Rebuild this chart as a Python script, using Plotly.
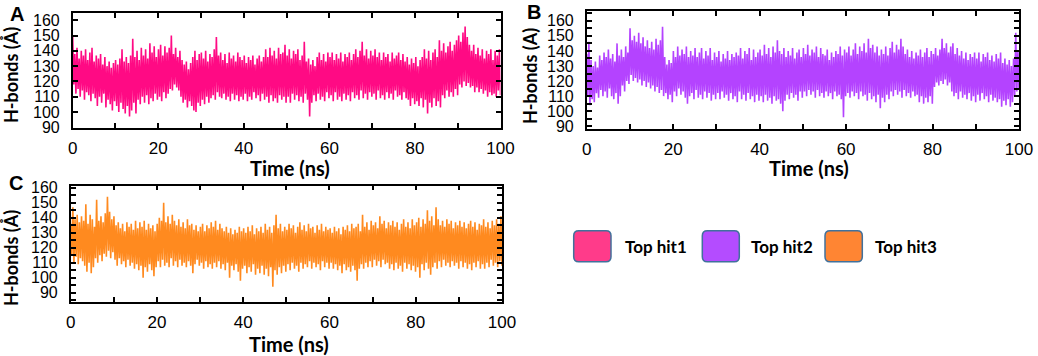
import numpy as np
import plotly.graph_objects as go

W, H = 1038, 356

# ---------------- data (H-bonds vs time, read per 0.5 ns: local max / local min) -------------
A_HI = [149, 138, 142, 135, 140, 137, 141, 134, 139, 142, 133, 137, 135, 138, 131, 136, 130, 133, 129, 132,
        134, 131, 135, 141, 133, 136, 132, 137, 148, 136, 140, 134, 142, 137, 141, 135, 145, 139, 143, 136,
        141, 144, 137, 143, 139, 142, 150, 138, 142, 136, 140, 134, 131, 133, 128, 132, 136, 140, 134, 138,
        139, 135, 140, 133, 138, 136, 141, 149, 137, 139, 134, 138, 132, 139, 135, 137, 133, 139, 136, 134,
        137, 132, 136, 134, 137, 131, 135, 137, 133, 136, 141, 136, 142, 137, 140, 135, 142, 138, 139, 144,
        137, 141, 135, 140, 138, 141, 134, 137, 146, 133, 135, 131, 134, 130, 136, 139, 134, 138, 133, 139,
        136, 139, 134, 138, 135, 139, 133, 138, 136, 139, 134, 138, 141, 136, 140, 146, 137, 141, 135, 140,
        137, 141, 136, 139, 134, 139, 136, 138, 133, 139, 135, 137, 139, 134, 138, 133, 136, 131, 135, 132,
        136, 130, 134, 136, 141, 135, 140, 134, 139, 141, 136, 147, 140, 145, 139, 143, 146, 140, 144, 147,
        150, 146, 152, 156, 149, 144, 140, 144, 138, 142, 137, 141, 135, 140, 138, 141, 134, 140, 137, 141]
A_LO = [118, 112, 115, 110, 114, 108, 113, 111, 107, 112, 109, 104, 110, 106, 112, 103, 108, 105, 101, 107,
        104, 100, 106, 102, 99, 104, 97, 101, 106, 99, 108, 105, 110, 106, 111, 105, 109, 107, 112, 108,
        110, 107, 113, 109, 112, 115, 114, 118, 116, 114, 110, 106, 108, 103, 107, 104, 101, 100, 106, 104,
        108, 105, 110, 106, 109, 111, 108, 113, 110, 109, 112, 108, 110, 107, 112, 108, 111, 107, 110, 108,
        112, 107, 110, 108, 113, 109, 111, 107, 112, 108, 110, 106, 111, 107, 109, 106, 111, 108, 110, 106,
        110, 106, 112, 108, 111, 107, 110, 106, 112, 108, 97, 106, 111, 107, 112, 108, 110, 107, 113, 109,
        111, 107, 113, 108, 110, 107, 112, 108, 111, 107, 113, 109, 111, 108, 114, 109, 112, 108, 113, 110,
        112, 108, 114, 109, 111, 108, 113, 109, 112, 108, 114, 110, 111, 108, 113, 109, 108, 104, 109, 105,
        107, 104, 109, 103, 108, 99, 106, 103, 109, 104, 107, 103, 111, 109, 114, 110, 113, 110, 115, 111,
        118, 116, 120, 117, 119, 116, 117, 113, 116, 113, 115, 112, 114, 110, 113, 111, 112, 110, 114, 111]

B_HI = [138, 146, 134, 130, 133, 129, 137, 134, 139, 136, 141, 135, 138, 133, 145, 137, 141, 136, 143, 139,
        155, 147, 150, 146, 152, 145, 149, 143, 147, 142, 146, 141, 148, 144, 147, 156, 136, 131, 134, 132,
        140, 136, 143, 137, 141, 138, 143, 136, 140, 137, 142, 136, 139, 142, 135, 140, 137, 142, 134, 139,
        136, 140, 133, 138, 135, 140, 134, 138, 136, 139, 137, 142, 135, 140, 138, 142, 134, 141, 136, 139,
        141, 137, 144, 138, 142, 136, 143, 139, 147, 140, 138, 142, 136, 140, 137, 142, 135, 139, 141, 136,
        142, 138, 144, 137, 141, 139, 143, 136, 142, 138, 137, 141, 134, 139, 136, 140, 138, 143, 137, 141,
        139, 143, 137, 141, 145, 138, 143, 140, 145, 139, 148, 142, 144, 139, 143, 137, 141, 138, 143, 137,
        142, 146, 139, 144, 141, 148, 143, 138, 141, 136, 140, 135, 139, 137, 141, 136, 139, 142, 136, 140,
        138, 142, 137, 141, 148, 142, 145, 139, 143, 145, 138, 142, 137, 140, 135, 139, 134, 138, 136, 139,
        135, 139, 133, 138, 136, 139, 134, 137, 133, 138, 135, 139, 132, 135, 131, 134, 130, 135, 152, 140]
B_LO = [110, 104, 108, 106, 112, 109, 114, 110, 113, 109, 115, 110, 108, 112, 105, 110, 117, 113, 120, 118,
        124, 120, 122, 119, 121, 117, 120, 116, 119, 115, 117, 113, 116, 112, 114, 110, 112, 108, 111, 106,
        113, 110, 115, 111, 113, 109, 105, 110, 112, 108, 114, 109, 111, 108, 113, 109, 112, 107, 111, 108,
        112, 108, 113, 109, 111, 107, 112, 108, 110, 106, 113, 108, 111, 107, 112, 108, 110, 106, 111, 107,
        110, 106, 111, 107, 109, 105, 110, 107, 108, 105, 100, 107, 111, 108, 112, 109, 111, 107, 113, 109,
        113, 110, 114, 111, 113, 109, 114, 110, 112, 109, 113, 110, 112, 108, 113, 110, 111, 108, 96, 110,
        112, 109, 113, 110, 112, 108, 113, 110, 111, 107, 112, 108, 110, 106, 111, 102, 109, 106, 111, 108,
        113, 110, 114, 111, 113, 109, 114, 110, 112, 109, 113, 110, 111, 106, 110, 105, 109, 106, 110, 105,
        116, 119, 117, 120, 118, 121, 117, 119, 113, 110, 112, 108, 113, 109, 111, 108, 112, 107, 110, 106,
        111, 107, 112, 108, 110, 106, 111, 107, 109, 106, 108, 103, 107, 104, 108, 103, 106, 110, 113, 115]

C_HI = [136, 147, 139, 142, 137, 141, 138, 149, 136, 142, 139, 134, 152, 138, 141, 137, 143, 154, 144, 139,
        141, 135, 137, 133, 136, 131, 137, 134, 136, 132, 138, 133, 137, 134, 138, 132, 136, 133, 135, 131,
        136, 140, 138, 150, 137, 141, 136, 142, 138, 135, 139, 134, 137, 133, 139, 135, 136, 132, 135, 131,
        134, 136, 131, 135, 133, 137, 134, 138, 132, 136, 133, 131, 134, 130, 133, 129, 132, 130, 134, 131,
        133, 130, 134, 131, 135, 129, 133, 131, 134, 130, 136, 132, 134, 130, 135, 142, 133, 136, 131, 134,
        132, 136, 133, 135, 130, 134, 137, 132, 135, 131, 136, 133, 134, 130, 135, 132, 136, 131, 134, 132,
        133, 130, 134, 131, 133, 129, 134, 132, 135, 131, 136, 133, 134, 136, 131, 142, 134, 137, 132, 138,
        135, 137, 133, 141, 136, 138, 133, 137, 135, 138, 134, 137, 132, 136, 139, 134, 137, 133, 139, 135,
        137, 140, 134, 139, 136, 145, 138, 141, 135, 147, 139, 135, 138, 134, 139, 136, 138, 133, 137, 135,
        138, 134, 137, 133, 136, 138, 134, 137, 132, 136, 135, 139, 134, 137, 133, 138, 135, 139, 136, 141]
C_LO = [115, 110, 114, 109, 113, 111, 108, 104, 110, 103, 107, 113, 110, 115, 111, 116, 114, 118, 113, 117,
        112, 108, 113, 109, 111, 107, 112, 108, 110, 106, 109, 105, 108, 100, 107, 104, 109, 105, 101, 107,
        111, 107, 112, 108, 110, 107, 113, 108, 111, 107, 112, 108, 110, 107, 111, 108, 103, 109, 112, 108,
        110, 106, 111, 107, 109, 106, 110, 107, 111, 106, 109, 105, 110, 100, 108, 105, 109, 104, 98, 106,
        108, 103, 107, 104, 109, 102, 106, 103, 108, 102, 106, 101, 107, 94, 105, 102, 107, 103, 108, 104,
        109, 105, 110, 106, 108, 104, 110, 106, 109, 107, 111, 106, 110, 107, 109, 105, 111, 107, 110, 106,
        110, 106, 109, 105, 108, 103, 109, 105, 107, 104, 108, 105, 98, 106, 109, 106, 110, 107, 111, 107,
        112, 108, 111, 107, 112, 109, 110, 106, 109, 105, 110, 106, 108, 104, 110, 106, 109, 105, 108, 104,
        107, 100, 109, 105, 110, 106, 102, 107, 110, 106, 111, 107, 112, 108, 110, 107, 111, 108, 110, 106,
        111, 107, 110, 106, 109, 105, 110, 107, 111, 106, 109, 106, 110, 107, 112, 108, 110, 107, 111, 108]

T_START, T_END = 0, 100
X_TICKS = [0, 20, 40, 60, 80, 100]
Y_TICKS = [90, 100, 110, 120, 130, 140, 150, 160]
SERIES_NAMES = ["Top hit1", "Top hit2", "Top hit3"]
PANEL_LETTERS = ["A", "B", "C"]
Y_TITLES = ["H-bonds (Å)", "H-bonds (A)", "H-bonds (Å)"]
X_TITLE = "Time (ns)"

LINE_COLORS = ["#FF0A84", "#B443FF", "#FF8A1F"]
BOX_COLORS = ["#FF3B8A", "#B44CFF", "#FF8533"]


def series(hi, lo):
    vals = []
    for h, l in zip(hi, lo):
        vals += [h, l]
    t = np.linspace(T_START, T_END, len(vals))
    return t, vals


def px_x(x):
    return x / W


def px_y(y):
    return 1 - y / H


# plot areas in pixels: (left, right, top, bottom)
PANELS = [(72.7, 500.5, 12.7, 128.0),
          (586.7, 1019.0, 11.0, 128.5),
          (70.7, 502.0, 185.5, 301.7)]
Y_RANGES = [[89.5, 165.0], [88.5, 166.5], [84.0, 161.5]]
Y_MINOR = [None, 5, 5]

fig = go.Figure()
data = [(A_HI, A_LO), (B_HI, B_LO), (C_HI, C_LO)]
for i, (hi, lo) in enumerate(data):
    t, v = series(hi, lo)
    sfx = "" if i == 0 else str(i + 1)
    fig.add_trace(go.Scatter(x=t, y=v, mode="lines", xaxis="x" + sfx, yaxis="y" + sfx,
                             line=dict(color=LINE_COLORS[i], width=1.6), showlegend=False,
                             hoverinfo="skip"))

tickfont = dict(family="Liberation Sans, Arial, sans-serif", size=16, color="black")
for i, (l, r, t, b) in enumerate(PANELS):
    sfx = "" if i == 0 else str(i + 1)
    xa = dict(domain=[px_x(l), px_x(r)], anchor="y" + sfx, range=[T_START, T_END],
              automargin=False,
              tickmode="array", tickvals=X_TICKS, ticktext=[str(v) for v in X_TICKS],
              ticks="inside", ticklen=5, tickwidth=1.5, tickcolor="black",
              minor=dict(tickmode="linear", tick0=10, dtick=20, ticks="inside", ticklen=5,
                         tickwidth=1.5, tickcolor="black"),
              showline=True, linecolor="black", linewidth=1.6, mirror="ticks",
              showgrid=False, zeroline=False, tickfont=dict(tickfont, size=17),
              ticklabelstandoff=4)
    ya = dict(domain=[px_y(b), px_y(t)], anchor="x" + sfx, range=Y_RANGES[i],
              automargin=False,
              tickmode="array", tickvals=Y_TICKS, ticktext=[str(v) for v in Y_TICKS],
              ticks="inside", ticklen=5, tickwidth=1.5, tickcolor="black",
              showline=True, linecolor="black", linewidth=1.6, mirror="ticks",
              showgrid=False, zeroline=False, tickfont=tickfont, ticklabelstandoff=8)
    if Y_MINOR[i]:
        ya["minor"] = dict(tickmode="linear", tick0=85, dtick=10, ticks="inside", ticklen=5,
                           tickwidth=1.5, tickcolor="black")
    fig.update_layout(**{"xaxis" + sfx: xa, "yaxis" + sfx: ya})

annotations = []
LETTER_POS = [(17, 14), (534, 12), (15.5, 183)]
XT_POS = [(290, 168), (809, 168), (289, 344)]
YT_POS = [(11, 75), (530, 76), (11, 258)]
for i in range(3):
    annotations.append(dict(text="<b>%s</b>" % PANEL_LETTERS[i], x=px_x(LETTER_POS[i][0]),
                            y=px_y(LETTER_POS[i][1]), xref="paper", yref="paper", showarrow=False,
                            xanchor="center", yanchor="middle",
                            font=dict(family="Liberation Sans, Arial", size=20, color="black")))
    annotations.append(dict(text="<b>%s</b>" % X_TITLE, x=px_x(XT_POS[i][0]), y=px_y(XT_POS[i][1]),
                            xref="paper", yref="paper", showarrow=False, xanchor="center",
                            yanchor="middle", font=dict(family="Lato", size=20, color="black")))
    annotations.append(dict(text="<b>%s</b>" % Y_TITLES[i], x=px_x(YT_POS[i][0]), y=px_y(YT_POS[i][1]),
                            xref="paper", yref="paper", showarrow=False, xanchor="center",
                            yanchor="middle", textangle=-90,
                            font=dict(family="Lato", size=18, color="black")))

# legend (custom rounded swatches)
shapes = []
BOX_X = [(573.7, 611.0), (702.3, 739.3), (825.0, 862.3)]
BOX_Y = (230.7, 261.7)
TXT_X = [623, 749, 873]
TXT_Y = 246


def rounded_path(x0, y0, x1, y1, r):
    X = lambda v: px_x(v)
    Y = lambda v: px_y(v)
    p = "M %f,%f " % (X(x0 + r), Y(y0))
    p += "L %f,%f " % (X(x1 - r), Y(y0))
    p += "Q %f,%f %f,%f " % (X(x1), Y(y0), X(x1), Y(y0 + r))
    p += "L %f,%f " % (X(x1), Y(y1 - r))
    p += "Q %f,%f %f,%f " % (X(x1), Y(y1), X(x1 - r), Y(y1))
    p += "L %f,%f " % (X(x0 + r), Y(y1))
    p += "Q %f,%f %f,%f " % (X(x0), Y(y1), X(x0), Y(y1 - r))
    p += "L %f,%f " % (X(x0), Y(y0 + r))
    p += "Q %f,%f %f,%f Z" % (X(x0), Y(y0), X(x0 + r), Y(y0))
    return p


for i in range(3):
    shapes.append(dict(type="path", xref="paper", yref="paper",
                       path=rounded_path(BOX_X[i][0], BOX_Y[0], BOX_X[i][1], BOX_Y[1], 5),
                       fillcolor=BOX_COLORS[i], line=dict(color="#41719C", width=1.5)))
    annotations.append(dict(text="<b>%s</b>" % SERIES_NAMES[i], x=px_x(TXT_X[i]), y=px_y(TXT_Y),
                            xref="paper", yref="paper", showarrow=False, xanchor="left",
                            yanchor="middle", font=dict(family="Lato", size=17, color="black")))

fig.update_layout(width=W, height=H, margin=dict(l=0, r=0, t=0, b=0, autoexpand=False),
                  paper_bgcolor="white", plot_bgcolor="white",
                  annotations=annotations, shapes=shapes, showlegend=False)

fig.write_html("out.html", config={"displayModeBar": False},
               post_script="document.body.style.margin='0';document.body.style.overflow='hidden';")
